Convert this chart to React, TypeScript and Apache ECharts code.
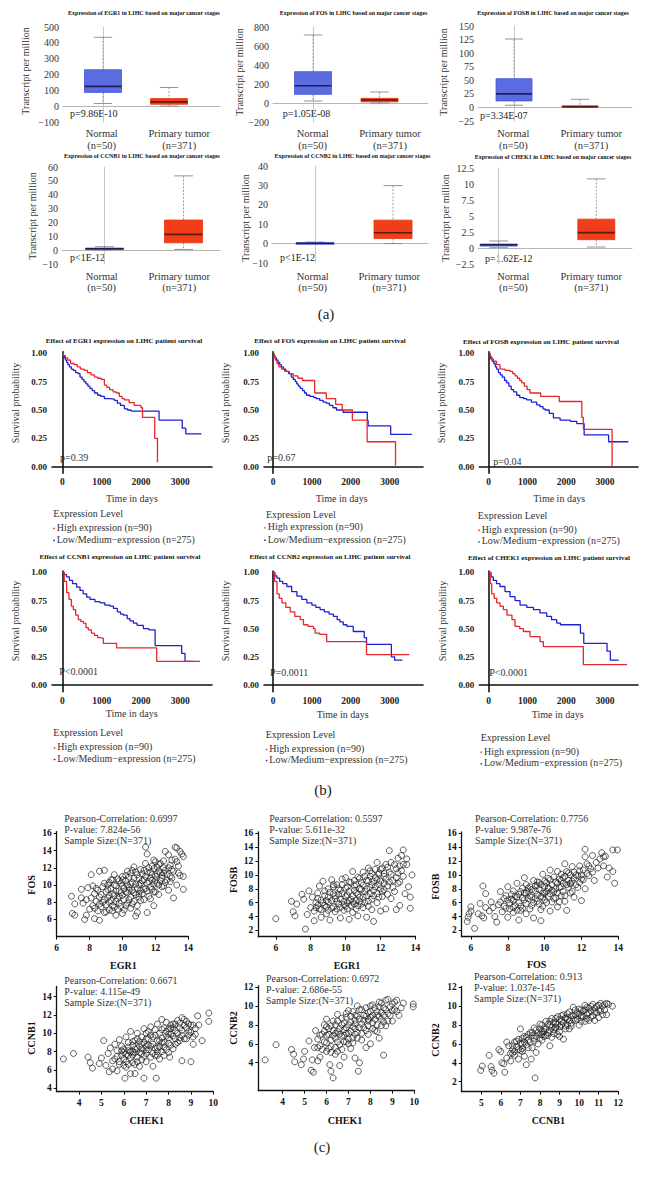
import React, { useEffect, useRef } from 'react';
import * as echarts from 'echarts';

const SERIF = '"Liberation Serif", "Times New Roman", serif';

// ================= (a) expression box plots =================
const boxGenes = ['EGR1', 'FOS', 'FOSB', 'CCNB1', 'CCNB2', 'CHEK1'];
const boxGroups = ['Normal', 'Primary tumor'];
const boxGroupN = ['(n=50)', '(n=371)'];
const boxPValues = ['p=9.86E-10', 'p=1.05E-08', 'p=3.34E-07', 'p<1E-12', 'p<1E-12', 'p=1.62E-12'];
// [min, q1, median, q3, max]
const egr1Normal = [17, 87, 125, 230, 435];
const egr1Tumor = [0, 12, 27, 48, 118];
const fosNormal = [21, 91, 182, 330, 716];
const fosTumor = [0, 12, 32, 49, 116];
const fosbNormal = [4, 12, 25, 53, 126];
const fosbTumor = [0, 0.3, 1.2, 3, 15];
const ccnb1Normal = [0.2, 0.6, 1.0, 1.5, 2.5];
const ccnb1Tumor = [0.5, 5.3, 11.4, 21.7, 53.6];
const ccnb2Normal = [0, 0.1, 0.2, 0.4, 0.8];
const ccnb2Tumor = [0, 2.6, 5.6, 12.1, 29.9];
const chek1Normal = [0.05, 0.3, 0.5, 0.62, 1.1];
const chek1Tumor = [0.15, 1.3, 2.4, 4.5, 10.8];
const boxYMin = [-100, -200, -25, -10, -10, -2.5];
const boxYMax = [500, 800, 150, 60, 40, 12.5];
const boxYStep = [100, 200, 25, 10, 10, 2.5];

// ================= (b) Kaplan-Meier curves [days, survival] =================
const survGenes = ['EGR1', 'FOS', 'FOSB', 'CCNB1', 'CCNB2', 'CHEK1'];
const survPValues = ['p=0.39', 'p=0.67', 'p=0.04', 'P<0.0001', 'P=0.0011', 'P<0.0001'];
const survTicksX = [0, 1000, 2000, 3000];
const survTicksY = [0, 0.25, 0.5, 0.75, 1];
const legendTitle = 'Expression Level';
const legendHigh = 'High expression (n=90)';
const legendLow = 'Low/Medium\u2212expression (n=275)';

const egr1High = [[0,1],[30,0.98],[80,0.96],[140,0.94],[210,0.91],[300,0.9],[380,0.88],[460,0.86],[560,0.85],[640,0.83],[730,0.81],[820,0.79],[900,0.78],[990,0.77],[1070,0.72],[1130,0.7],[1200,0.68],[1290,0.66],[1370,0.65],[1450,0.62],[1520,0.6],[1580,0.59],[1700,0.565],[1830,0.54],[2000,0.52],[2040,0.435],[2350,0.25],[2420,0.04]];
const egr1Low = [[0,1],[20,0.98],[50,0.96],[80,0.94],[110,0.92],[143,0.9],[180,0.88],[230,0.86],[280,0.85],[340,0.83],[400,0.82],[450,0.79],[500,0.77],[550,0.75],[600,0.73],[650,0.71],[700,0.69],[760,0.67],[820,0.65],[900,0.63],[980,0.62],[1070,0.6],[1200,0.595],[1325,0.585],[1400,0.56],[1480,0.54],[1578,0.51],[1660,0.5],[1750,0.49],[2460,0.41],[3050,0.34],[3140,0.29],[3540,0.29]];
const fosHigh = [[0,1],[30,0.97],[60,0.94],[100,0.91],[150,0.88],[220,0.86],[300,0.84],[420,0.82],[520,0.8],[640,0.78],[760,0.76],[1070,0.65],[1370,0.6],[1610,0.55],[1780,0.5],[2040,0.41],[2420,0.22],[3150,0.01]];
const fosLow = [[0,1],[20,0.98],[50,0.96],[90,0.94],[130,0.92],[170,0.9],[214,0.88],[270,0.86],[330,0.84],[400,0.82],[471,0.79],[520,0.77],[570,0.75],[610,0.73],[650,0.71],[700,0.69],[760,0.67],[810,0.65],[860,0.63],[950,0.62],[1050,0.61],[1114,0.6],[1200,0.585],[1290,0.57],[1371,0.56],[1450,0.54],[1540,0.52],[1630,0.5],[1800,0.48],[2425,0.41],[2445,0.36],[3025,0.285],[3570,0.285]];
const fosbHigh = [[0,1],[40,0.97],[80,0.95],[120,0.93],[200,0.9],[292,0.86],[420,0.85],[550,0.84],[620,0.82],[680,0.8],[740,0.78],[800,0.76],[851,0.74],[920,0.71],[990,0.68],[1066,0.65],[1340,0.62],[1820,0.575],[2400,0.435],[2440,0.33],[3180,0.0]];
const fosbLow = [[0,1],[20,0.98],[50,0.95],[90,0.93],[130,0.91],[170,0.88],[206,0.86],[250,0.83],[300,0.81],[350,0.79],[410,0.76],[464,0.74],[520,0.71],[580,0.68],[640,0.66],[722,0.63],[800,0.61],[900,0.6],[980,0.59],[1100,0.57],[1238,0.545],[1320,0.53],[1400,0.51],[1453,0.5],[1560,0.47],[1668,0.43],[1840,0.41],[2100,0.4],[2270,0.38],[2460,0.28],[3090,0.22],[3600,0.22]];
const ccnb1High = [[0,1],[50,0.92],[110,0.82],[170,0.76],[230,0.7],[280,0.67],[340,0.62],[407,0.58],[470,0.565],[534,0.55],[600,0.51],[662,0.49],[740,0.46],[820,0.44],[900,0.42],[960,0.415],[1044,0.37],[1380,0.33],[2400,0.21],[3500,0.21]];
const ccnb1Low = [[0,1],[50,0.98],[110,0.96],[180,0.93],[260,0.9],[364,0.87],[450,0.84],[530,0.81],[620,0.78],[705,0.76],[830,0.74],[959,0.73],[1080,0.71],[1214,0.7],[1300,0.68],[1400,0.65],[1480,0.63],[1552,0.62],[1650,0.59],[1720,0.57],[1807,0.55],[1900,0.53],[2061,0.5],[2200,0.49],[2360,0.35],[3036,0.28],[3120,0.21],[3334,0.21]];
const ccnb2High = [[0,1],[40,0.92],[102,0.81],[160,0.77],[230,0.73],[330,0.69],[443,0.65],[560,0.61],[698,0.58],[783,0.535],[900,0.52],[1040,0.5],[1083,0.46],[1200,0.45],[1380,0.385],[2404,0.27],[3504,0.27]];
const ccnb2Low = [[0,1],[50,0.97],[100,0.95],[170,0.92],[250,0.9],[358,0.875],[480,0.83],[614,0.79],[740,0.76],[870,0.73],[1000,0.71],[1100,0.69],[1210,0.67],[1320,0.65],[1440,0.63],[1551,0.61],[1650,0.58],[1720,0.56],[1807,0.535],[1900,0.52],[2063,0.475],[2345,0.42],[2404,0.36],[3043,0.25],[3128,0.22],[3325,0.22]];
const chek1High = [[0,1],[40,0.9],[77,0.81],[140,0.77],[206,0.73],[290,0.7],[378,0.67],[470,0.62],[600,0.58],[678,0.52],[800,0.5],[893,0.475],[1065,0.43],[1323,0.385],[1409,0.34],[2440,0.18],[3566,0.18]];
const chek1Low = [[0,1],[60,0.96],[119,0.93],[200,0.9],[291,0.875],[420,0.83],[550,0.785],[680,0.75],[808,0.71],[980,0.69],[1151,0.67],[1320,0.64],[1495,0.61],[1620,0.58],[1753,0.55],[1849,0.535],[2364,0.46],[2450,0.37],[3050,0.3],[3136,0.22],[3351,0.22]];

// ================= (c) correlation scatter plots [x, y] =================
const scatterXNames = ['EGR1', 'EGR1', 'FOS', 'CHEK1', 'CHEK1', 'CCNB1'];
const scatterYNames = ['FOS', 'FOSB', 'FOSB', 'CCNB1', 'CCNB2', 'CCNB2'];
const scatterR = ['0.6997', '0.5597', '0.7756', '0.6671', '0.6972', '0.913'];
const scatterP = ['7.824e-56', '5.611e-32', '9.987e-76', '4.115e-49', '2.686e-55', '1.037e-145'];
const scatterN = 371;
const scatterXTicks = [[6,8,10,12,14],[6,8,10,12,14],[6,8,10,12,14],[4,5,6,7,8,9,10],[4,5,6,7,8,9,10],[5,6,7,8,9,10,11,12]];
const scatterYTicks = [[6,8,10,12,14,16],[2,4,6,8,10,12,14,16],[2,4,6,8,10,12,14,16],[4,6,8,10,12,14],[4,6,8,10,12],[2,4,6,8,10,12]];

const egr1Fos = [[6.9,8.7],[6.95,6.7],[7.1,6.5],[7.1,7.8],[7.5,9.5],[7.5,8.5],[7.6,7.9],[7.7,6.0],[7.8,6.5],[7.9,9.7],[7.8,8.3],[8.0,7.2],[8.1,11.2],[8.1,8.5],[8.2,7.6],[8.3,6.1],[8.3,9.0],[8.4,8.1],[8.5,7.0],[8.5,9.4],[8.6,11.6],[8.6,5.9],[8.6,8.6],[8.7,7.5],[8.8,9.8],[8.8,8.0],[8.9,11.7],[8.9,6.8],[9.0,9.2],[9.0,7.7],[9.1,8.5],[9.2,10.3],[9.2,7.1],[9.3,9.6],[9.3,8.2],[9.4,10.6],[9.5,8.8],[9.5,7.4],[9.6,6.5],[9.6,9.9],[9.7,10.7],[9.7,8.4],[9.8,9.3],[9.8,7.9],[9.9,10.2],[10.0,6.7],[10.0,11.0],[10.0,8.8],[10.1,9.6],[10.2,10.5],[10.2,7.6],[10.3,11.6],[10.3,9.1],[10.4,8.3],[10.5,10.1],[10.5,11.4],[10.6,9.4],[10.6,7.8],[10.7,10.8],[10.8,6.4],[10.8,8.9],[10.9,6.8],[10.9,11.2],[11.0,10.0],[11.0,9.0],[11.1,11.8],[11.1,8.2],[11.2,10.5],[11.3,9.5],[11.4,14.4],[11.4,12.5],[11.4,11.0],[11.5,13.6],[11.5,6.8],[11.5,10.2],[11.6,8.7],[11.7,11.5],[11.7,9.8],[11.8,12.2],[11.8,10.6],[11.9,7.6],[11.9,9.2],[12.0,11.0],[12.0,12.7],[12.1,10.2],[12.2,12.4],[12.2,8.9],[12.3,11.4],[12.4,9.8],[12.4,10.8],[12.5,12.0],[12.6,13.9],[12.6,10.3],[12.7,11.2],[12.8,13.5],[12.8,9.4],[12.9,12.3],[13.0,12.9],[13.0,10.8],[13.1,8.5],[13.1,11.6],[13.2,14.4],[13.3,14.3],[13.3,10.0],[13.4,12.2],[13.5,13.9],[13.5,11.1],[13.6,13.6],[13.7,13.3],[13.7,9.5],[13.7,11.0],[8.2,9.9],[9.1,10.0],[9.4,7.0],[10.4,9.7],[10.7,12.1],[11.3,11.7],[11.9,12.9],[12.5,11.4],[12.9,10.4],
  [8.3,7.3],[8.4,9.6],[8.6,7.8],[8.7,8.9],[8.9,8.3],[8.9,10.2],[9.0,6.9],[9.1,9.5],[9.2,8.0],[9.2,8.8],[9.3,10.6],[9.4,7.6],[9.4,9.0],[9.5,10.0],[9.5,11.2],[9.6,8.1],[9.6,9.3],[9.7,7.2],[9.8,10.5],[9.8,8.7],[9.9,9.1],[9.9,7.5],[10.0,9.9],[10.0,10.6],[10.1,8.3],[10.1,7.1],[10.2,9.2],[10.2,11.1],[10.3,10.0],[10.3,7.9],[10.4,9.4],[10.4,10.9],[10.5,8.6],[10.5,7.3],[10.6,10.3],[10.6,11.7],[10.7,9.1],[10.7,8.1],[10.8,10.1],[10.8,11.5],[10.9,9.6],[10.9,7.6],[11.0,10.8],[11.0,8.6],[11.1,9.4],[11.1,10.2],[11.2,11.3],[11.2,9.0],[11.3,10.6],[11.3,8.3],[11.4,9.6],[11.5,11.5],[11.5,9.3],[11.6,10.4],[11.6,12.0],[11.7,10.8],[11.7,8.4],[11.8,11.2],[11.8,9.5],[11.9,10.1],[11.9,11.9],[12.0,10.5],[12.0,9.2],[12.1,11.3],[12.1,12.1],[12.2,10.0],[12.2,11.6],[12.3,10.5],[12.3,12.5],[12.4,11.1],[12.5,9.9],[12.5,12.8],[12.6,11.7],[12.7,10.6],[12.8,12.0],[12.9,11.0],[13.0,11.8],[13.2,13.0],[13.3,12.7],[13.4,11.4]];
const egr1Fosb = [[6.0,3.7],[6.9,6.2],[7.0,4.7],[7.1,4.1],[7.2,5.8],[7.5,7.2],[7.6,6.5],[7.7,2.2],[7.8,4.3],[7.9,7.7],[8.0,5.3],[8.1,6.8],[8.2,3.4],[8.2,4.8],[8.3,6.0],[8.4,7.4],[8.5,5.1],[8.5,8.4],[8.6,3.9],[8.6,6.4],[8.7,9.1],[8.8,5.6],[8.8,7.0],[8.9,4.4],[9.0,8.0],[9.0,6.1],[9.1,3.5],[9.2,5.2],[9.2,9.3],[9.3,7.3],[9.4,4.7],[9.4,6.6],[9.5,8.6],[9.6,5.8],[9.7,3.8],[9.7,7.8],[9.8,9.4],[9.9,6.2],[9.9,4.9],[10.0,8.1],[10.0,5.5],[10.1,7.1],[10.2,3.6],[10.2,9.0],[10.3,6.5],[10.4,10.5],[10.4,4.6],[10.5,8.4],[10.5,5.8],[10.6,7.4],[10.7,9.7],[10.7,4.1],[10.8,6.8],[10.9,8.9],[11.0,5.3],[11.0,10.4],[11.1,7.6],[11.2,3.9],[11.2,9.2],[11.3,6.2],[11.3,11.0],[11.4,8.2],[11.5,5.0],[11.5,10.2],[11.6,3.3],[11.6,7.0],[11.7,9.6],[11.8,11.8],[11.8,6.0],[11.9,8.6],[12.0,10.8],[12.0,4.8],[12.1,7.6],[12.2,9.8],[12.3,5.1],[12.3,11.5],[12.4,8.4],[12.5,13.5],[12.5,10.4],[12.6,6.6],[12.6,11.8],[12.7,9.2],[12.8,7.6],[12.9,5.0],[12.9,10.9],[13.0,12.4],[13.0,8.8],[13.1,5.6],[13.1,11.3],[13.2,12.8],[13.3,13.6],[13.3,9.8],[13.4,7.3],[13.5,11.5],[13.6,8.3],[13.7,5.2],[13.7,6.8],[13.8,10.0],[8.9,6.3],[9.6,7.2],[10.1,6.0],[10.8,8.0],[11.4,9.8],[12.2,8.8],[8.4,5.6],[9.3,8.3],[10.6,5.1],[11.9,10.1],
  [8.3,5.3],[8.4,6.6],[8.6,5.0],[8.7,6.0],[8.8,7.7],[8.9,5.4],[9.0,6.8],[9.0,4.9],[9.1,7.5],[9.2,6.3],[9.3,5.4],[9.3,8.6],[9.4,7.0],[9.5,5.1],[9.5,6.2],[9.6,8.0],[9.7,6.5],[9.7,5.3],[9.8,7.3],[9.8,8.6],[9.9,5.7],[10.0,6.9],[10.0,9.6],[10.1,5.1],[10.1,8.3],[10.2,6.3],[10.2,7.6],[10.3,8.9],[10.3,5.6],[10.4,7.0],[10.4,6.1],[10.5,9.2],[10.5,7.8],[10.6,6.3],[10.6,8.6],[10.7,5.6],[10.7,7.2],[10.8,9.5],[10.8,6.2],[10.9,7.9],[10.9,5.8],[11.0,8.5],[11.0,6.8],[11.1,9.8],[11.1,6.0],[11.2,8.0],[11.2,7.0],[11.3,9.2],[11.3,5.5],[11.4,7.3],[11.4,10.6],[11.5,8.6],[11.5,6.5],[11.6,9.1],[11.6,7.8],[11.7,8.3],[11.7,10.8],[11.8,7.3],[11.8,9.3],[11.9,10.3],[11.9,6.8],[12.0,8.0],[12.0,9.1],[12.1,11.0],[12.1,6.9],[12.2,10.2],[12.2,7.9],[12.3,9.4],[12.4,11.1],[12.4,7.2],[12.5,9.0],[12.6,10.1],[12.7,8.2],[12.8,11.5],[12.9,9.6],[13.0,10.3],[13.1,9.0],[13.2,10.6],[13.3,11.5],[13.5,12.3]];
const fosFosb = [[5.8,3.3],[5.85,3.9],[5.9,4.4],[6.0,5.4],[6.0,4.8],[6.2,2.3],[6.4,4.4],[6.5,5.9],[6.6,4.1],[6.65,8.4],[6.7,3.8],[6.8,7.3],[6.8,5.3],[7.0,4.8],[7.1,6.1],[7.2,5.3],[7.3,4.0],[7.4,3.2],[7.5,5.7],[7.6,7.6],[7.7,4.7],[7.8,6.6],[7.9,5.2],[8.0,8.3],[8.0,3.9],[8.1,6.0],[8.2,7.2],[8.3,4.6],[8.4,5.6],[8.5,8.8],[8.5,6.8],[8.6,3.5],[8.7,7.6],[8.8,5.2],[8.9,9.6],[8.9,6.4],[9.0,4.4],[9.1,8.1],[9.2,7.0],[9.3,5.6],[9.4,9.2],[9.4,3.8],[9.5,7.7],[9.6,6.2],[9.7,8.9],[9.8,3.4],[9.8,5.0],[9.9,10.1],[10.0,7.3],[10.0,8.4],[10.1,6.0],[10.2,9.5],[10.3,4.8],[10.3,10.7],[10.4,7.8],[10.5,6.6],[10.6,9.0],[10.7,10.5],[10.7,5.4],[10.8,8.2],[10.9,7.0],[11.0,9.6],[11.1,11.6],[11.1,6.2],[11.2,4.9],[11.2,8.6],[11.3,10.3],[11.4,7.4],[11.5,11.2],[11.5,9.1],[11.6,6.8],[11.7,10.0],[11.8,8.2],[11.9,11.3],[12.0,9.4],[12.0,6.3],[12.1,10.7],[12.2,13.7],[12.2,12.6],[12.2,8.0],[12.3,11.6],[12.4,9.9],[12.5,10.9],[12.6,12.8],[12.7,9.2],[12.8,11.8],[13.0,12.3],[13.1,13.2],[13.2,11.3],[13.3,12.7],[13.4,9.7],[13.5,11.0],[13.7,10.5],[13.7,13.6],[13.8,8.8],[13.95,13.6],[8.3,6.3],[9.0,7.4],[9.6,8.5],[10.2,8.0],[10.9,9.2],[11.4,8.8],[8.7,4.9],[9.9,6.8],
  [7.6,6.1],[7.8,5.5],[7.9,7.0],[8.0,6.4],[8.1,5.1],[8.2,6.5],[8.3,7.7],[8.3,5.3],[8.4,6.9],[8.5,4.9],[8.6,7.2],[8.6,6.0],[8.7,5.5],[8.8,8.1],[8.8,6.7],[8.9,7.4],[9.0,5.9],[9.0,8.6],[9.1,6.6],[9.1,7.6],[9.2,5.1],[9.2,8.3],[9.3,6.8],[9.3,7.9],[9.4,6.0],[9.5,8.4],[9.5,6.6],[9.6,7.2],[9.6,9.0],[9.7,5.8],[9.7,7.9],[9.8,6.9],[9.8,8.6],[9.9,7.4],[9.9,5.5],[10.0,9.1],[10.0,6.4],[10.1,7.6],[10.1,8.9],[10.2,6.9],[10.2,8.2],[10.3,7.3],[10.3,9.3],[10.4,6.1],[10.4,8.6],[10.5,7.6],[10.5,9.7],[10.6,8.0],[10.6,6.7],[10.7,8.8],[10.7,7.4],[10.8,9.4],[10.8,6.1],[10.9,8.3],[10.9,10.1],[11.0,7.6],[11.0,8.8],[11.1,9.8],[11.1,7.0],[11.2,10.5],[11.3,8.2],[11.3,9.2],[11.4,10.0],[11.4,8.7],[11.5,7.6],[11.6,9.6],[11.6,10.4],[11.7,8.6],[11.8,9.9],[11.9,10.6],[11.9,8.9],[12.0,10.0],[12.1,9.3],[12.3,10.2],[12.4,11.3],[12.6,10.4],[12.9,11.0],[13.2,12.6]];
const chek1Ccnb1 = [[3.3,7.2],[3.75,7.8],[4.4,7.4],[4.5,6.8],[4.6,6.2],[4.9,6.7],[5.0,7.3],[5.1,9.2],[5.2,6.5],[5.3,7.8],[5.35,5.8],[5.4,8.4],[5.5,7.0],[5.5,6.1],[5.6,8.8],[5.7,7.5],[5.7,5.9],[5.8,9.3],[5.8,6.6],[5.9,8.1],[6.0,7.2],[6.05,5.1],[6.1,9.6],[6.1,6.3],[6.2,8.5],[6.2,7.6],[6.3,10.2],[6.3,5.6],[6.4,8.0],[6.4,6.8],[6.5,9.2],[6.5,5.6],[6.6,7.4],[6.6,10.0],[6.7,8.6],[6.7,6.4],[6.8,9.6],[6.8,7.8],[6.9,5.1],[6.9,10.5],[7.0,8.2],[7.0,6.9],[7.1,9.4],[7.2,7.4],[7.2,10.7],[7.3,8.8],[7.3,6.4],[7.4,9.8],[7.45,5.1],[7.5,8.0],[7.5,11.0],[7.6,7.2],[7.6,9.2],[7.7,10.4],[7.7,11.5],[7.8,8.5],[7.8,7.6],[7.9,9.7],[7.9,11.2],[8.0,8.9],[8.0,10.5],[8.05,7.4],[8.1,9.9],[8.2,11.0],[8.2,8.3],[8.3,10.3],[8.3,9.4],[8.4,11.4],[8.4,9.0],[8.5,10.6],[8.6,11.7],[8.6,7.0],[8.6,9.8],[8.7,10.9],[8.8,11.3],[8.8,9.4],[8.9,10.2],[9.0,10.9],[9.0,6.9],[9.1,9.6],[9.2,10.5],[9.3,11.9],[9.35,10.9],[9.5,9.2],[9.8,12.2],[9.8,11.3],[9.1,8.8],[5.9,8.6],[6.4,9.1],[7.0,10.0],[7.4,7.6],[6.0,7.9],[6.6,8.3],[7.1,8.7],[7.7,9.0],[8.1,10.9],[8.5,9.5],
  [5.6,7.2],[5.7,8.1],[5.8,6.9],[5.9,7.6],[6.0,6.5],[6.0,8.3],[6.1,7.7],[6.1,6.9],[6.2,9.0],[6.2,6.6],[6.3,8.0],[6.3,7.3],[6.4,8.7],[6.4,7.6],[6.5,6.6],[6.5,8.3],[6.6,9.4],[6.6,6.9],[6.7,7.9],[6.7,9.1],[6.8,8.3],[6.8,7.1],[6.9,9.0],[6.9,7.5],[7.0,9.4],[7.0,7.8],[7.1,8.2],[7.1,10.2],[7.2,8.6],[7.2,9.8],[7.3,7.8],[7.3,9.6],[7.4,8.4],[7.4,10.4],[7.5,9.2],[7.5,7.6],[7.6,10.0],[7.6,8.5],[7.7,8.0],[7.7,9.5],[7.8,10.6],[7.8,9.0],[7.9,8.2],[7.9,10.2],[8.0,9.5],[8.0,7.9],[8.1,10.5],[8.1,8.7],[8.2,9.7],[8.2,10.6],[8.3,8.8],[8.3,11.0],[8.4,10.0],[8.5,9.2],[8.5,11.1],[8.6,10.3],[8.7,9.4],[8.7,11.5],[8.8,10.6],[8.9,9.8],[8.9,11.0],[9.0,10.1],[9.1,10.9],[9.2,9.9],[6.5,7.9],[7.0,8.6],[7.5,8.4],[8.0,9.9],[6.2,8.1],[6.8,8.8]];
const chek1Ccnb2 = [[3.2,4.3],[3.7,5.9],[4.4,5.4],[4.5,4.9],[4.55,4.1],[4.85,3.8],[4.95,4.4],[5.0,5.2],[5.2,6.3],[5.3,3.2],[5.35,4.3],[5.4,3.0],[5.45,5.6],[5.5,7.4],[5.6,6.5],[5.7,4.6],[5.7,5.8],[5.8,7.0],[5.9,6.2],[5.9,8.0],[6.0,5.2],[6.0,6.9],[6.1,7.6],[6.15,3.8],[6.2,3.1],[6.2,5.7],[6.3,2.4],[6.3,8.4],[6.4,6.6],[6.4,4.9],[6.5,7.3],[6.5,9.1],[6.6,3.7],[6.6,5.9],[6.7,8.0],[6.7,6.8],[6.8,7.5],[6.8,4.6],[6.9,8.8],[6.9,6.2],[7.0,7.1],[7.0,9.5],[7.1,5.5],[7.1,8.3],[7.2,6.6],[7.2,7.8],[7.3,9.0],[7.3,4.5],[7.4,7.2],[7.45,3.1],[7.5,4.0],[7.5,8.6],[7.6,6.4],[7.6,9.6],[7.7,7.7],[7.8,8.9],[7.8,5.6],[7.9,7.0],[8.0,9.4],[8.0,6.0],[8.1,8.2],[8.1,10.1],[8.2,7.4],[8.3,9.0],[8.4,10.4],[8.4,6.6],[8.5,8.6],[8.6,4.8],[8.6,9.8],[8.7,7.9],[8.8,10.7],[8.8,9.2],[8.9,9.0],[9.0,10.2],[9.0,8.4],[9.1,9.6],[9.2,10.6],[9.3,9.0],[9.5,10.3],[9.95,10.2],[9.95,9.9],[6.0,7.8],[7.4,10.0],[8.3,8.0],[5.6,4.2],[6.2,6.4],[6.8,6.9],[7.3,8.1],[7.9,8.4],[8.5,9.3],[6.5,5.2],[7.0,6.0],
  [5.6,5.6],[5.7,6.9],[5.8,5.4],[5.9,7.3],[6.0,6.1],[6.0,8.6],[6.1,5.5],[6.1,7.0],[6.2,7.9],[6.2,5.1],[6.3,6.9],[6.3,7.4],[6.4,8.0],[6.4,5.6],[6.5,6.2],[6.5,8.4],[6.6,7.0],[6.6,7.6],[6.7,5.4],[6.7,8.7],[6.8,6.2],[6.8,8.2],[6.9,7.1],[6.9,9.2],[7.0,6.5],[7.0,8.0],[7.1,7.3],[7.1,8.9],[7.2,6.1],[7.2,9.4],[7.3,7.6],[7.3,8.5],[7.4,6.6],[7.4,8.9],[7.5,7.7],[7.5,9.6],[7.6,8.1],[7.6,7.1],[7.7,9.0],[7.7,8.5],[7.8,7.4],[7.8,9.8],[7.9,8.6],[7.9,7.9],[8.0,8.8],[8.0,10.0],[8.1,7.6],[8.1,9.0],[8.2,8.6],[8.2,9.8],[8.3,7.3],[8.3,9.4],[8.4,8.9],[8.4,9.9],[8.5,7.9],[8.5,10.3],[8.6,9.0],[8.7,9.6],[8.7,10.6],[8.8,8.4],[8.9,9.9],[9.0,9.5],[9.1,10.4],[9.2,9.4],[9.4,9.8],[6.4,7.1],[6.9,7.7],[7.3,7.0],[7.9,9.3],[8.6,8.3]];
const ccnb1Ccnb2 = [[4.97,3.2],[5.05,3.65],[5.4,4.8],[5.5,3.6],[5.55,3.2],[5.65,2.9],[5.9,5.4],[6.0,5.2],[6.05,4.0],[6.15,3.9],[6.2,3.0],[6.3,4.5],[6.4,5.8],[6.5,4.2],[6.6,5.4],[6.7,6.2],[6.7,4.8],[6.8,5.7],[6.9,4.4],[6.9,6.5],[7.0,7.6],[7.0,5.3],[7.1,6.0],[7.2,4.7],[7.2,6.8],[7.3,3.8],[7.3,5.9],[7.4,6.4],[7.5,7.2],[7.55,4.4],[7.6,5.6],[7.7,6.6],[7.75,2.4],[7.8,7.5],[7.9,6.0],[8.0,7.0],[8.0,8.1],[8.1,6.4],[8.2,7.6],[8.3,8.4],[8.3,6.9],[8.4,7.2],[8.5,8.0],[8.6,6.7],[8.6,8.7],[8.7,7.5],[8.8,8.2],[8.9,7.0],[8.9,8.9],[9.0,7.8],[9.1,8.4],[9.2,6.5],[9.2,9.1],[9.3,7.9],[9.4,8.6],[9.5,9.4],[9.5,7.6],[9.6,8.2],[9.7,9.0],[9.7,9.9],[9.8,8.5],[9.9,9.3],[10.0,8.0],[10.0,9.7],[10.1,8.8],[10.2,9.5],[10.3,10.1],[10.3,8.4],[10.4,9.2],[10.5,9.8],[10.6,8.8],[10.7,10.2],[10.8,9.4],[10.8,8.5],[10.9,10.0],[11.0,9.6],[11.1,10.3],[11.2,9.1],[11.3,10.2],[11.4,9.1],[11.5,10.2],[11.7,10.0],[8.5,5.8],[7.8,5.1],[9.0,6.8],[6.3,6.2],[7.6,6.9],[8.1,7.3],[8.8,7.7],[9.3,8.8],[10.1,9.0],[10.6,9.5],[7.1,5.2],[6.6,5.0],
  [6.5,5.0],[6.6,5.8],[6.7,5.2],[6.8,6.3],[6.9,5.4],[7.0,6.1],[7.1,6.6],[7.1,5.5],[7.2,6.2],[7.3,6.7],[7.4,5.6],[7.4,7.0],[7.5,6.2],[7.6,7.2],[7.7,6.3],[7.7,7.7],[7.8,6.8],[7.9,7.2],[8.0,6.6],[8.0,7.6],[8.1,7.0],[8.1,8.0],[8.2,6.8],[8.2,7.3],[8.3,7.6],[8.4,8.1],[8.4,6.9],[8.5,7.4],[8.5,8.4],[8.6,7.8],[8.7,8.3],[8.7,7.1],[8.8,7.8],[8.8,8.7],[8.9,8.1],[9.0,8.6],[9.0,7.3],[9.1,8.0],[9.1,9.0],[9.2,8.3],[9.3,8.7],[9.3,7.6],[9.4,8.0],[9.4,9.2],[9.5,8.5],[9.6,9.0],[9.6,7.9],[9.7,8.6],[9.8,9.1],[9.8,9.6],[9.9,8.6],[10.0,9.2],[10.1,9.6],[10.1,8.4],[10.2,8.9],[10.3,9.6],[10.4,8.7],[10.4,9.9],[10.5,9.3],[10.6,10.0],[10.7,9.0],[10.8,9.8],[10.9,9.3],[11.0,10.1],[11.1,9.5],[11.2,10.0],[11.3,9.6],[11.4,10.3],[11.0,8.8],[10.5,8.5]];

// ================= colours =================
const normalFill = '#5b6be0';
const normalEdge = '#4456d8';
const normalMedian = '#1b1f5c';
const tumorFill = '#ef3e19';
const tumorEdge = '#e2330f';
const tumorMedian = '#5c1a0b';
const kmHigh = '#e8262d';
const kmLow = '#1e22d2';

function buildOption() {
  const grid: any[] = [];
  const xAxis: any[] = [];
  const yAxis: any[] = [];
  const series: any[] = [];
  const g: any[] = [];
  const text = (x: number, y: number, t: string, o: any = {}) => {
    g.push({
      type: 'text', x, y, rotation: o.rot || 0, silent: true,
      style: {
        text: t, fill: o.color || '#222', fontSize: o.size || 10, fontFamily: SERIF,
        fontWeight: o.bold ? 'bold' : 'normal', textAlign: o.align || 'left', textVerticalAlign: 'middle',
      },
    });
  };

  // ---------- (a) ----------
  const boxData = [
    [egr1Normal, egr1Tumor], [fosNormal, fosTumor], [fosbNormal, fosbTumor],
    [ccnb1Normal, ccnb1Tumor], [ccnb2Normal, ccnb2Tumor], [chek1Normal, chek1Tumor],
  ];
  const boxLayout = [
    { L: 63, R: 220, top: 27, h: 95, c0: 103, c1: 169, bw: 37, title: [144, 13.3], ylab: [25, 71], p: [70, 113], labY: [133, 145], labX: [101.7, 179.3] },
    { L: 273, R: 428, top: 27, h: 95, c0: 313, c1: 379.5, bw: 37, title: [353.5, 13.3], ylab: [239.3, 72], p: [282.7, 113], labY: [133, 145], labX: [312.7, 390] },
    { L: 478, R: 632, top: 26, h: 95, c0: 514, c1: 580, bw: 36, title: [553, 13.3], ylab: [443.3, 72], p: [480, 115], labY: [133, 145], labX: [513.3, 591.3] },
    { L: 62, R: 220, top: 167, h: 97, c0: 104.5, c1: 183.5, bw: 38, title: [142, 156], ylab: [32.7, 216], p: [70, 257], labY: [276, 287.3], labX: [101.7, 179.3] },
    { L: 272, R: 428, top: 166, h: 97, c0: 315, c1: 393, bw: 38, title: [352.5, 155.7], ylab: [245, 218], p: [280, 257], labY: [276, 287.3], labX: [312.7, 389.3] },
    { L: 478, R: 632, top: 168, h: 96, c0: 498.7, c1: 596.3, bw: 37, title: [553, 156.7], ylab: [445, 218], p: [485, 258], labY: [276, 287.3], labX: [513.3, 591.3] },
  ];
  boxLayout.forEach((b, i) => {
    const idx = grid.length;
    const span = b.c1 - b.c0;
    grid.push({ left: b.L, top: b.top, width: b.R - b.L, height: b.h });
    xAxis.push({
      type: 'value', gridIndex: idx, min: -(b.c0 - b.L) / span, max: 1 + (b.R - b.c1) / span,
      axisLine: { show: true, lineStyle: { color: '#b5b5b5', width: 1 } },
      axisTick: { show: false }, axisLabel: { show: false }, splitLine: { show: false },
    });
    yAxis.push({
      type: 'value', gridIndex: idx, min: boxYMin[i], max: boxYMax[i], interval: boxYStep[i],
      axisLine: { show: true, lineStyle: { color: '#c8c8c8', width: 1 } },
      axisTick: { show: false }, splitLine: { show: false },
      axisLabel: {
        fontSize: 10, fontFamily: SERIF, color: '#333', margin: 4,
        formatter: (v: number) => String(v).replace('-', '\u2212'),
      },
    });
    const hw = b.bw / 2;
    series.push({
      type: 'custom', xAxisIndex: idx, yAxisIndex: idx, silent: true,
      data: boxData[i].map((d, k) => [k, ...d]),
      encode: { x: 0, y: [1, 2, 3, 4, 5] },
      renderItem: (params: any, api: any) => {
        const cat = api.value(0);
        const lo = api.coord([cat, api.value(1)]);
        const q1 = api.coord([cat, api.value(2)]);
        const md = api.coord([cat, api.value(3)]);
        const q3 = api.coord([cat, api.value(4)]);
        const hi = api.coord([cat, api.value(5)]);
        const fill = cat === 0 ? normalFill : tumorFill;
        const edge = cat === 0 ? normalEdge : tumorEdge;
        const med = cat === 0 ? normalMedian : tumorMedian;
        const cx = md[0];
        const whisk = { stroke: '#888', lineWidth: 0.8, lineDash: [2, 1.5] };
        const cap = { stroke: '#888', lineWidth: 0.9 };
        const h = Math.max(q1[1] - q3[1], 1.5);
        return {
          type: 'group',
          children: [
            { type: 'line', shape: { x1: cx, y1: hi[1], x2: cx, y2: q3[1] }, style: whisk },
            { type: 'line', shape: { x1: cx, y1: q1[1], x2: cx, y2: lo[1] }, style: whisk },
            { type: 'line', shape: { x1: cx - hw / 2, y1: hi[1], x2: cx + hw / 2, y2: hi[1] }, style: cap },
            { type: 'line', shape: { x1: cx - hw / 2, y1: lo[1], x2: cx + hw / 2, y2: lo[1] }, style: cap },
            { type: 'rect', shape: { x: cx - hw, y: q3[1], width: 2 * hw, height: h }, style: { fill, stroke: edge, lineWidth: 0.8 } },
            { type: 'line', shape: { x1: cx - hw, y1: md[1], x2: cx + hw, y2: md[1] }, style: { stroke: med, lineWidth: 1.6 } },
          ],
        };
      },
    });
    text(b.title[0], b.title[1], `Expression of ${boxGenes[i]} in LIHC based on major cancer stages`, { size: 6, bold: true, align: 'center', color: '#111' });
    text(b.ylab[0], b.ylab[1], 'Transcript per million', { size: 10, align: 'center', rot: Math.PI / 2, color: '#333' });
    text(b.p[0], b.p[1], boxPValues[i], { size: 10, color: '#222' });
    boxGroups.forEach((name, k) => {
      text(b.labX[k], b.labY[0], name, { size: 10.5, align: 'center', color: '#333' });
      text(b.labX[k], b.labY[1], boxGroupN[k], { size: 10.5, align: 'center', color: '#333' });
    });
  });

  // ---------- (b) ----------
  const curves = [
    [egr1High, egr1Low], [fosHigh, fosLow], [fosbHigh, fosbLow],
    [ccnb1High, ccnb1Low], [ccnb2High, ccnb2Low], [chek1High, chek1Low],
  ];
  const survCols = [
    { L: 52, R: 212, zero: 62.3, k: 0.03933 },
    { L: 264, R: 423, zero: 273, k: 0.0389 },
    { L: 479.3, R: 638, zero: 488.7, k: 0.0388 },
  ];
  const survRows = [
    { top: 351.7, bottom: 473.3, ymin: -0.058, ymax: 1.014 },
    { top: 571, bottom: 691.7, ymin: -0.06, ymax: 1.013 },
  ];
  const survText = [
    { title: [124, 341], ylab: [15, 403], p: [60, 457.7], time: [132, 498], leg: [53.3, 513], hi: [56.7, 527.3], lo: [56.7, 539.3] },
    { title: [330, 341], ylab: [225, 403], p: [267.3, 457.7], time: [341.7, 498], leg: [266, 514], hi: [267.7, 526.7], lo: [267.7, 539] },
    { title: [541, 342], ylab: [441, 403], p: [493.3, 461.7], time: [559.3, 498.7], leg: [477.7, 515], hi: [481.7, 529], lo: [481.7, 540.7] },
    { title: [120, 556.7], ylab: [15, 621], p: [59.3, 671.7], time: [131.7, 713.3], leg: [53.3, 732.3], hi: [57.3, 746.7], lo: [57.3, 758.3] },
    { title: [330, 556.7], ylab: [225, 621], p: [270, 672.7], time: [342.7, 714.3], leg: [265.7, 734.3], hi: [269.3, 748.3], lo: [269.3, 759.3] },
    { title: [549, 558.3], ylab: [442, 621], p: [489.3, 672.7], time: [557.7, 714.3], leg: [480.7, 737.3], hi: [484, 751], lo: [484, 762.7] },
  ];
  curves.forEach((pair, i) => {
    const c = survCols[i % 3];
    const r = survRows[i < 3 ? 0 : 1];
    const idx = grid.length;
    grid.push({ left: c.L, width: c.R - c.L, top: r.top, height: r.bottom - r.top });
    const axisLine = { show: true, lineStyle: { color: '#111', width: 1.6 } };
    xAxis.push({
      type: 'value', gridIndex: idx, min: -(c.zero - c.L) / c.k, max: (c.R - c.zero) / c.k,
      axisLine, axisTick: { show: false }, splitLine: { show: false },
      axisLabel: {
        customValues: survTicksX, fontSize: 9.5, fontWeight: 'bold', fontFamily: SERIF, color: '#222', margin: 4,
        formatter: (v: number) => String(Math.round(v)),
      },
    });
    yAxis.push({
      type: 'value', gridIndex: idx, min: r.ymin, max: r.ymax,
      axisLine, axisTick: { show: false }, splitLine: { show: false },
      axisLabel: {
        customValues: survTicksY, fontSize: 9, fontWeight: 'bold', fontFamily: SERIF, color: '#222', margin: 5,
        formatter: (v: number) => v.toFixed(2),
      },
    });
    series.push({
      type: 'line', xAxisIndex: idx, yAxisIndex: idx, data: pair[1], step: 'end', symbol: 'none', silent: true,
      lineStyle: { color: kmLow, width: 1.3 },
    });
    series.push({
      type: 'line', xAxisIndex: idx, yAxisIndex: idx, data: pair[0], step: 'end', symbol: 'none', silent: true,
      lineStyle: { color: kmHigh, width: 1.3 },
    });
    const t = survText[i];
    text(t.title[0], t.title[1], `Effect of ${survGenes[i]} expression on LIHC patient survival`, { size: 7, bold: true, align: 'center', color: '#111' });
    text(t.ylab[0], t.ylab[1], 'Survival probability', { size: 10, align: 'center', rot: Math.PI / 2, color: '#333' });
    text(t.p[0], t.p[1], survPValues[i], { size: 10, color: '#333' });
    text(t.time[0], t.time[1], 'Time in days', { size: 10, align: 'center', color: '#333' });
    text(t.leg[0], t.leg[1], legendTitle, { size: 10, color: '#333' });
    text(t.hi[0], t.hi[1], legendHigh, { size: 10, color: '#333' });
    text(t.lo[0], t.lo[1], legendLow, { size: 10, color: '#333' });
    g.push({ type: 'rect', silent: true, shape: { x: t.hi[0] - 3.5, y: t.hi[1] + 0.5, width: 1.6, height: 1.4 }, style: { fill: kmHigh } });
    g.push({ type: 'rect', silent: true, shape: { x: t.lo[0] - 3.5, y: t.lo[1] + 0.5, width: 1.6, height: 1.4 }, style: { fill: kmLow } });
  });

  // ---------- (c) ----------
  const scat = [egr1Fos, egr1Fosb, fosFosb, chek1Ccnb1, chek1Ccnb2, ccnb1Ccnb2];
  const scatLayout = [
    { L: 56.7, R: 188.3, xmin: 6, xmax: 14, top: 831.6, bottom: 936.7, ymin: 4, ymax: 16.2, ann: [64.3, 818.3], xname: [123.3, 965], yname: [31.7, 885] },
    { L: 258.3, R: 415.5, xmin: 5, xmax: 14, top: 831.9, bottom: 936.7, ymin: 1.1, ymax: 16.2, ann: [269.3, 818.3], xname: [347, 965.5], yname: [233.3, 880] },
    { L: 461.7, R: 618.3, xmin: 5.5, xmax: 14, top: 831.9, bottom: 936.7, ymin: 1.1, ymax: 16.2, ann: [475, 818.3], xname: [536.7, 964.5], yname: [435, 886.7] },
    { L: 56.7, R: 213.3, xmin: 3, xmax: 10, top: 986.5, bottom: 1091.7, ymin: 3.63, ymax: 15.1, ann: [64.3, 980], xname: [146.7, 1120.7], yname: [31.7, 1038] },
    { L: 258.3, R: 414.3, xmin: 2.89, xmax: 10, top: 986.0, bottom: 1090.7, ymin: 1.05, ymax: 12.1, ann: [266, 978], xname: [345, 1120.7], yname: [233.3, 1028] },
    { L: 461.7, R: 618.3, xmin: 4, xmax: 12, top: 986.4, bottom: 1091.7, ymin: 0.94, ymax: 12.1, ann: [474, 976.5], xname: [548.3, 1120.7], yname: [435, 1040] },
  ];
  scat.forEach((pts, i) => {
    const s = scatLayout[i];
    const idx = grid.length;
    grid.push({ left: s.L, width: s.R - s.L, top: s.top, height: s.bottom - s.top });
    const axisLine = { show: true, lineStyle: { color: '#111', width: 1.3 } };
    const lbl = { fontSize: 9.5, fontWeight: 'bold', fontFamily: SERIF, color: '#111' };
    xAxis.push({
      type: 'value', gridIndex: idx, min: s.xmin, max: s.xmax, axisLine, splitLine: { show: false },
      axisTick: { show: true, length: 3, customValues: scatterXTicks[i], lineStyle: { color: '#111' } },
      axisLabel: { ...lbl, customValues: scatterXTicks[i], margin: 6 },
    });
    yAxis.push({
      type: 'value', gridIndex: idx, min: s.ymin, max: s.ymax, axisLine, splitLine: { show: false },
      axisTick: { show: true, length: 3, customValues: scatterYTicks[i], lineStyle: { color: '#111' } },
      axisLabel: { ...lbl, customValues: scatterYTicks[i], margin: 5 },
    });
    series.push({
      type: 'scatter', xAxisIndex: idx, yAxisIndex: idx, data: pts, symbol: 'circle', symbolSize: 6, silent: true,
      itemStyle: { color: 'rgba(255,255,255,0)', borderColor: '#222', borderWidth: 0.9 },
    });
    text(s.ann[0], s.ann[1], `Pearson-Correlation: ${scatterR[i]}`, { size: 10, color: '#333' });
    text(s.ann[0], s.ann[1] + 11, `P-value: ${scatterP[i]}`, { size: 10, color: '#333' });
    text(s.ann[0], s.ann[1] + 22, `Sample Size:(N=${scatterN})`, { size: 10, color: '#333' });
    text(s.xname[0], s.xname[1], scatterXNames[i], { size: 10, bold: true, align: 'center', color: '#111' });
    text(s.yname[0], s.yname[1], scatterYNames[i], { size: 10, bold: true, align: 'center', rot: Math.PI / 2, color: '#111' });
  });

  text(326, 314, '(a)', { size: 15, align: 'center', color: '#222' });
  text(323, 790, '(b)', { size: 15, align: 'center', color: '#222' });
  text(322, 1147, '(c)', { size: 15, align: 'center', color: '#222' });

  return {
    animation: false,
    backgroundColor: '#ffffff',
    grid, xAxis, yAxis, series,
    graphic: { elements: g },
  };
}

export default function App() {
  const ref = useRef<HTMLDivElement>(null);
  useEffect(() => {
    if (!ref.current) return;
    const chart = echarts.init(ref.current, undefined, { renderer: 'svg' });
    chart.setOption(buildOption() as any);
    return () => chart.dispose();
  }, []);
  return (
    <div
      ref={ref}
      style={{ position: 'absolute', left: 0, top: 0, width: 652, height: 1179, background: '#fff' }}
    />
  );
}
